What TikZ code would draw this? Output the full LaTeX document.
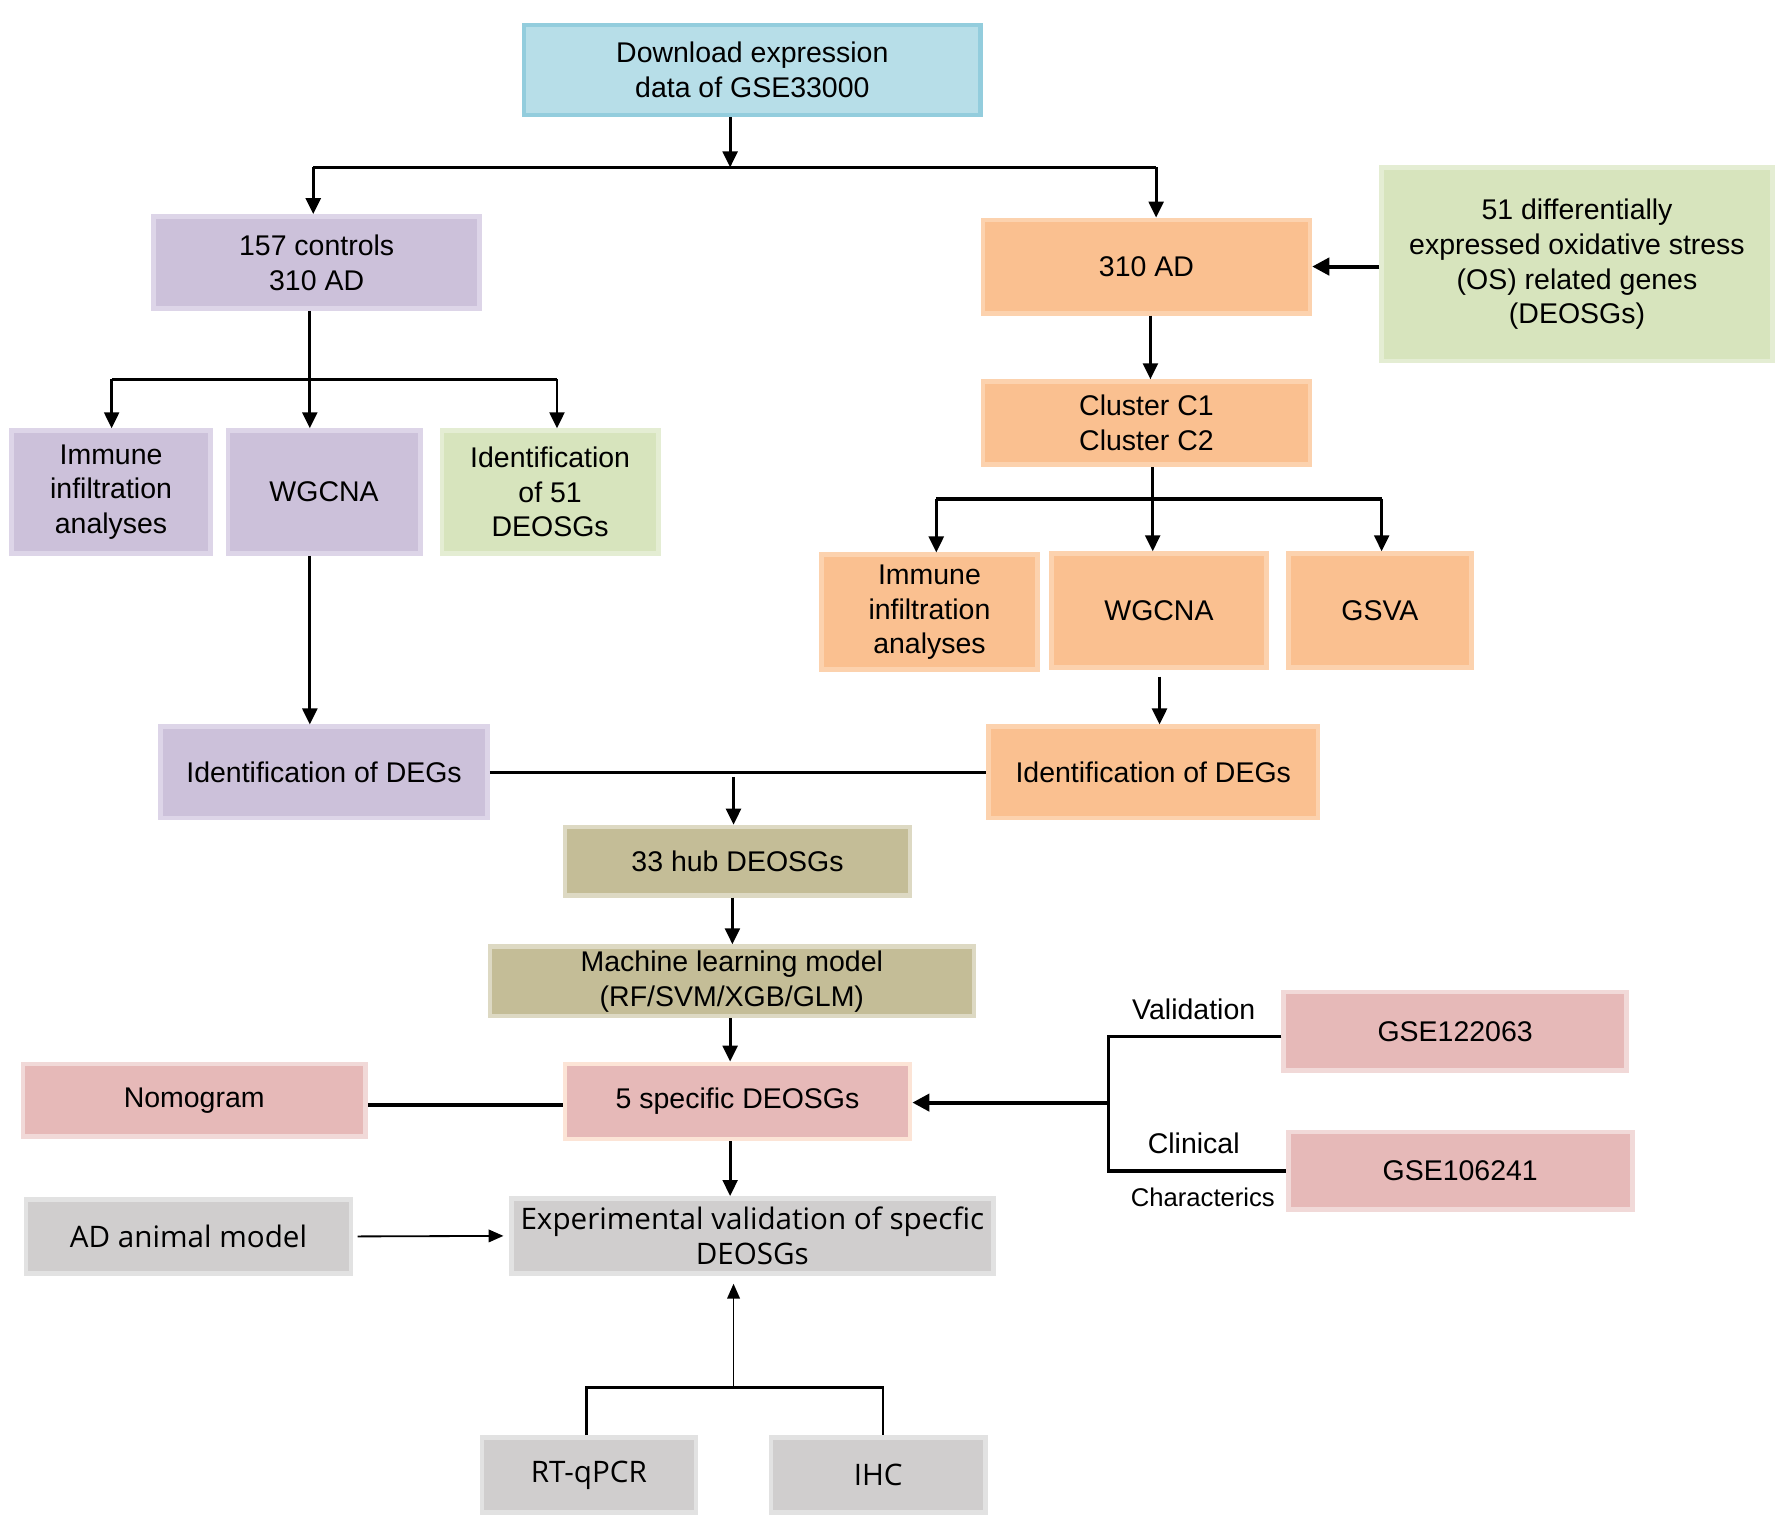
\documentclass[tikz,border=0pt]{standalone}
\usepackage{fontspec}
\setmainfont{Liberation Sans}
\newfontfamily\segoe{Open Sans}
\usetikzlibrary{arrows.meta}
\definecolor{bluef}{HTML}{B7DEE8}\definecolor{blued}{HTML}{93CDDD}
\definecolor{purf}{HTML}{CCC1DA}\definecolor{purd}{HTML}{DDD5E8}
\definecolor{oraf}{HTML}{FAC090}\definecolor{orad}{HTML}{FCD2AE}
\definecolor{grnf}{HTML}{D7E4BD}\definecolor{grnd}{HTML}{E4EDD3}
\definecolor{olvf}{HTML}{C4BD97}\definecolor{olvd}{HTML}{DDD9C3}
\definecolor{pnkf}{HTML}{E6B9B8}\definecolor{pnkd}{HTML}{F1D9D8}
\definecolor{pchd}{HTML}{FCE4D6}
\definecolor{gryf}{HTML}{D0CECE}\definecolor{gryd}{HTML}{E2E2E2}
\begin{document}
\begin{tikzpicture}[x=1pt,y=-1pt,
  box/.style={draw,line width=4pt,align=center,inner sep=0pt,
    font=\fontsize{25}{30.5}\selectfont,text=black},
  bluebox/.style={box,fill=bluef,draw=blued},
  purbox/.style={box,fill=purf,draw=purd},
  orabox/.style={box,fill=oraf,draw=orad},
  grnbox/.style={box,fill=grnf,draw=grnd},
  olvbox/.style={box,fill=olvf,draw=olvd},
  pnkbox/.style={box,fill=pnkf,draw=pnkd},
  grybox/.style={box,fill=gryf,draw=gryd,font=\segoe\fontsize{26}{30.5}\selectfont},
  sz/.style 2 args={minimum width=#1,minimum height=#2},
  arr/.style={line width=2.5pt,-{Triangle[length=14pt,width=13pt]}},
  bigarr/.style={line width=3.5pt,-{Triangle[length=15pt,width=15pt]}},
  thinarr/.style={line width=1.6pt,-{Triangle[length=13pt,width=11pt]}},
  hline/.style={line width=3pt},
  mline/.style={line width=2.2pt},
  lbl/.style={inner sep=0pt,font=\fontsize{25}{30}\selectfont,text=black}]
\useasboundingbox (0,0) rectangle (1568,1345);
% boxes
\node[bluebox,sz={401pt}{79pt}] (dl) at (660.5,61.5) {Download expression\\data of GSE33000};
\node[purbox,sz={286pt}{81pt}] (ctl) at (278,230.5) {157 controls\\310 AD};
\node[orabox,sz={287pt}{82pt}] (ad) at (1006.5,234) {310 AD};
\node[grnbox,sz={343pt}{170pt}] (os) at (1384.5,232) {51 differentially\\expressed oxidative stress\\(OS) related genes\\(DEOSGs)};
\node[orabox,sz={287pt}{73pt}] (clu) at (1006.5,371.5) {Cluster C1\\Cluster C2};
\node[purbox,sz={175pt}{108pt}] (imL) at (97.5,432) {Immune\\infiltration\\analyses};
\node[purbox,sz={169pt}{108pt}] (wgL) at (284.5,432) {WGCNA};
\node[grnbox,sz={190pt}{108pt}] (id51) at (483,432) {Identification\\of 51\\DEOSGs};
\node[orabox,sz={190pt}{101pt}] (imR) at (816,537.5) {Immune\\infiltration\\analyses};
\node[orabox,sz={189pt}{100pt}] (wgR) at (1017.5,536) {WGCNA};
\node[orabox,sz={161pt}{100pt}] (gsva) at (1211.5,536) {GSVA};
\node[purbox,sz={287pt}{80pt}] (degL) at (284.5,678) {Identification of DEGs};
\node[orabox,sz={289pt}{80pt}] (degR) at (1012.5,678) {Identification of DEGs};
\node[olvbox,sz={303pt}{60pt}] (hub) at (647.5,756) {33 hub DEOSGs};
\node[olvbox,sz={425pt}{61pt}] (ml) at (642.5,861.5) {Machine learning model\\(RF/SVM/XGB/GLM)};
\node[pnkbox,draw=pchd,sz={303pt}{66pt}] (spec) at (647.5,967) {5 specific DEOSGs};
\node[pnkbox,sz={301pt}{64pt}] (nomo) at (170.5,966) {Nomogram};
\node[pnkbox,sz={301pt}{69pt}] (g122) at (1277.5,905.5) {GSE122063};
\node[pnkbox,sz={302pt}{68pt}] (g106) at (1282,1028) {GSE106241};
\node[grybox,sz={423pt}{66pt}] (exp) at (660.5,1085) {Experimental validation of specfic\\DEOSGs};
\node[grybox,sz={285pt}{65pt}] (anim) at (165.5,1085.5) {AD animal model};
\node[grybox,sz={188pt}{66pt}] (rt) at (517,1295) {RT-qPCR};
\node[grybox,sz={188pt}{66pt}] (ihc) at (771,1295) {IHC};
% labels
\node[lbl] (lv) at (1048,886) {Validation};
\node[lbl] (lc) at (1048,1004) {Clinical};
\node[lbl,font=\fontsize{22.5}{26}\selectfont] (lch) at (1056,1051) {Characterics};
% top split
\coordinate (t1) at (641,147); \coordinate (tl) at (275,147); \coordinate (tr) at (1015,147);
\draw[arr] (dl.south -| t1) -- (t1);
\draw[hline] (tl) -- (tr);
\draw[arr] (tl) -- (tl |- ctl.north);
\draw[arr] (tr) -- (tr |- ad.north);
% left
\coordinate (l1) at (98,333); \coordinate (l2) at (489,333); \coordinate (lm) at (272,333);
\draw[arr] (ctl.south -| lm) -- (lm |- wgL.north);
\draw[hline] (l1) -- (l2);
\draw[arr] (l1) -- (l1 |- imL.north);
\draw[arr] (l2) -- (l2 |- id51.north);
\draw[arr] (wgL.south -| lm) -- (lm |- degL.north);
% right
\coordinate (r0) at (1010,300);
\draw[bigarr] (os.west |- ad.east) -- (ad.east);
\draw[arr] (ad.south -| r0) -- (r0 |- clu.north);
\coordinate (c1) at (822,438); \coordinate (c2) at (1213,438); \coordinate (cm) at (1012,438);
\draw[arr] (clu.south -| cm) -- (cm |- wgR.north);
\draw[hline] (c1) -- (c2);
\draw[arr] (c1) -- (c1 |- imR.north);
\draw[arr] (c2) -- (c2 |- gsva.north);
\coordinate (dr) at (1018,600);
\draw[arr,shorten <=6pt] (wgR.south -| dr) -- (dr |- degR.north);
% center
\coordinate (h0) at (644,682); \coordinate (h1) at (643,800); \coordinate (h2) at (641,900);
\coordinate (ln) at (400,970);
\draw[hline] (degL.east) -- (degR.west);
\draw[arr] (h0) -- (h0 |- hub.north);
\draw[arr] (hub.south -| h1) -- (h1 |- ml.north);
\draw[arr] (ml.south -| h2) -- (h2 |- spec.north);
\draw[hline] (nomo.east |- ln) -- (spec.west |- ln);
\draw[arr] (spec.south -| h2) -- (h2 |- exp.north);
% validation bracket
\coordinate (vt) at (973,910); \coordinate (vb) at (973,1028); \coordinate (vm) at (973,968);
\draw[hline] (g122.west |- vt) -- (vt) -- (vb) -- (g106.west |- vb);
\draw[bigarr] (vm) -- (spec.east |- vm);
% experimental
\draw[thinarr,shorten <=4pt,shorten >=5pt] (anim.east) -- (exp.west);
\coordinate (u0) at (644,1218); \coordinate (ua) at (515,1218); \coordinate (ub) at (775,1218);
\draw[thinarr,shorten >=7pt] (u0) -- (u0 |- exp.south);
\draw[mline] (ua |- rt.north) -- (ua) -- (ub) -- (ub |- ihc.north);
\end{tikzpicture}
\end{document}
